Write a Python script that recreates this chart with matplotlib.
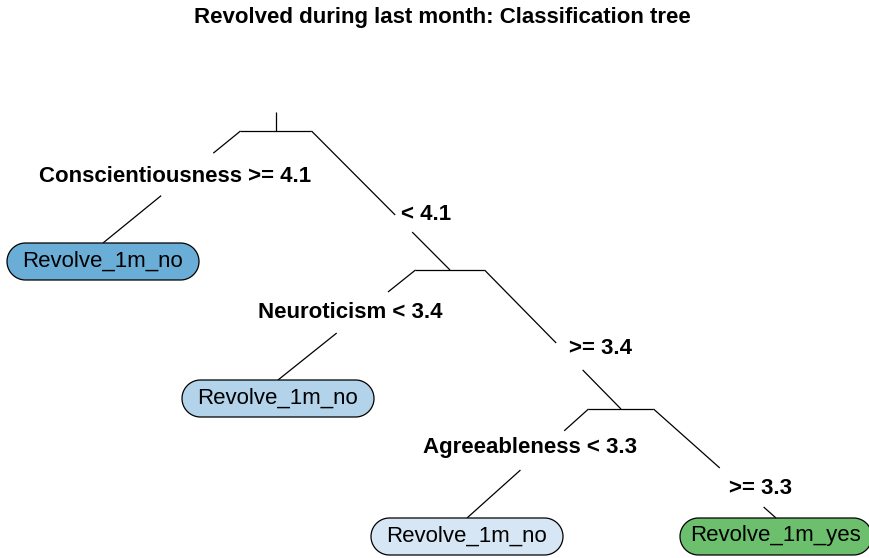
import numpy as np
import matplotlib
matplotlib.use("Agg")
import matplotlib.pyplot as plt
from matplotlib.patches import Polygon

plt.rcParams['font.family'] = ['Liberation Sans', 'DejaVu Sans']

title = 'Revolved during last month: Classification tree'

# split nodes: label of left branch, label of right branch
split_left_labels = ['Conscientiousness >= 4.1', 'Neuroticism < 3.4', 'Agreeableness < 3.3']
split_right_labels = ['< 4.1', '>= 3.4', '>= 3.3']

# leaves and their fill colours
leaf_labels = ['Revolve_1m_no', 'Revolve_1m_no', 'Revolve_1m_no', 'Revolve_1m_yes']
leaf_colors = ['#6aadd6', '#b2d3e9', '#d7e6f5', '#6cbf6c']

# layout in pixel units (x right, y down)
split_x = [276, 450, 621]          # junction of each split
split_y = [131, 270, 409]
bar_half = [35.5, 34.5, 32.5]
leaf_x = [103, 278, 467, 776]
leaf_top = [243, 380, 518, 518]
leaf_w, leaf_h = 192, 37

# label positions, and where each branch line is hidden behind its label (fractions along the line)
left_lab_xy = [(175, 176), (350, 313), (530, 448)]
right_lab_xy = [(426, 214), (601, 349), (761, 488)]
left_gap = [(0.198, 0.577), (0.2, 0.573), (0.2, 0.56)]
right_gap = [(0.604, 0.727), (0.525, 0.719), (0.541, 0.899)]

W, H = 870, 558
fig = plt.figure(figsize=(W / 100, H / 100), dpi=100)
ax = fig.add_axes([0, 0, 1, 1])
ax.set_xlim(0, W)
ax.set_ylim(H, 0)
ax.axis('off')

lc = dict(color='black', lw=0.9, solid_capstyle='butt')


def seg(x0, y0, x1, y1, gap):
    a, b = gap
    ax.plot([x0, x0 + (x1 - x0) * a], [y0, y0 + (y1 - y0) * a], **lc)
    ax.plot([x0 + (x1 - x0) * b, x1], [y0 + (y1 - y0) * b, y1], **lc)


def pill(cx, top, w, h, color):
    r = h / 2
    cy = top + r
    t = np.linspace(-np.pi / 2, np.pi / 2, 40)
    right = np.column_stack([cx + w / 2 - r + r * np.cos(t), cy + r * np.sin(t)])
    left = np.column_stack([cx - w / 2 + r - r * np.cos(t), cy - r * np.sin(t)])
    ax.add_patch(Polygon(np.vstack([right, left]), closed=True,
                         fc=color, ec='black', lw=0.9, zorder=3))


# root stub
ax.plot([split_x[0], split_x[0]], [112, split_y[0]], **lc)

# children of each split: left child is a leaf, right child is next split (or last leaf)
for i in range(3):
    xl = split_x[i] - bar_half[i]
    xr = split_x[i] + bar_half[i]
    y = split_y[i]
    ax.plot([xl, xr], [y, y], **lc)
    seg(xl, y, leaf_x[i], leaf_top[i], left_gap[i])
    if i < 2:
        tx, ty = split_x[i + 1], split_y[i + 1]
    else:
        tx, ty = leaf_x[3], leaf_top[3]
    seg(xr, y, tx, ty, right_gap[i])
    ax.text(*left_lab_xy[i], split_left_labels[i], ha='center', va='center',
            fontsize=16, fontweight='bold')
    ax.text(*right_lab_xy[i], split_right_labels[i], ha='center', va='center',
            fontsize=16, fontweight='bold')

for x, top, lab, col in zip(leaf_x, leaf_top, leaf_labels, leaf_colors):
    pill(x, top, leaf_w, leaf_h, col)
    ax.text(x, top + leaf_h / 2 - 0.5, lab, ha='center', va='center',
            fontsize=16, zorder=4)

ax.text(442, 17, title, ha='center', va='center', fontsize=16, fontweight='bold')

fig.savefig('out.png', dpi=100)
